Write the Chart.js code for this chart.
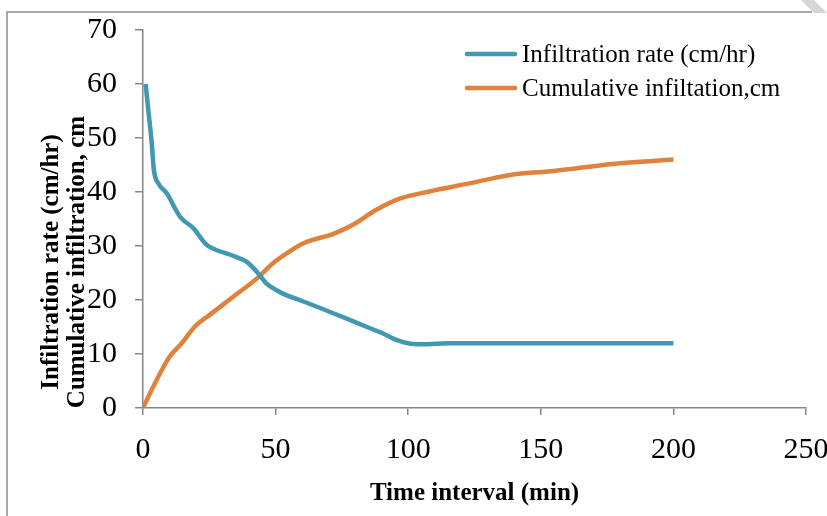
<!DOCTYPE html>
<html>
<head>
<meta charset="utf-8">
<script src="https://cdn.jsdelivr.net/npm/chart.js@4/dist/chart.umd.min.js"></script>
<style>
  html, body { margin: 0; padding: 0; background: #ffffff; }
  canvas { display: block; }
</style>
</head>
<body>
<canvas id="c" width="827" height="516"></canvas>
<script>
// ---- Data ----
const rateTime   = [1, 2, 3.3, 4.1, 5.8, 8.9, 14, 19, 24, 27, 35, 39, 43, 46.5, 50, 54, 59, 72, 84, 90.5, 95.5, 101, 106, 115, 200];
const rateValues = [60, 55.2, 49, 44.1, 41.6, 39.8, 35.4, 33.3, 30.2, 29.4, 28, 27.1, 25.2, 23.1, 21.9, 20.9, 20, 17.5, 15.1, 13.8, 12.6, 11.9, 11.8, 12, 12];

const cumTime   = [0, 2.6, 6.4, 10, 14.6, 19.6, 25, 34, 43, 49, 55, 60.5, 72, 79, 88, 97, 108, 123, 140, 155, 177, 200];
const cumValues = [0, 2.7, 6.4, 9.5, 12, 15.1, 17.2, 20.6, 24, 26.8, 28.9, 30.5, 32.3, 33.9, 36.7, 38.8, 40.1, 41.6, 43.3, 43.9, 45.2, 46];

const seriesNames = ['Infiltration rate (cm/hr)', 'Cumulative infiltation,cm'];
const yTitleLines = ['Infiltration rate (cm/hr)', 'Cumulative infiltration, cm'];
const xTitle = 'Time interval (min)';

const blue = '#4198B2';
const orange = '#E0823B';
const axisGrey = '#868686';

const toPoints = (xs, ys) => xs.map((x, i) => ({ x: x, y: ys[i] }));

const decorPlugin = {
  id: 'decor',
  beforeDraw(chart) {
    const ctx = chart.ctx;
    ctx.save();
    ctx.fillStyle = '#ffffff';
    ctx.fillRect(0, 0, chart.width, chart.height);
    // outer frame
    ctx.strokeStyle = '#8c8c8c';
    ctx.lineWidth = 1.5;
    ctx.beginPath();
    ctx.moveTo(7, 516);
    ctx.lineTo(7, 12);
    ctx.lineTo(812, 12);
    ctx.stroke();
    // hatched corner
    ctx.fillStyle = '#d6d6d6';
    ctx.beginPath();
    ctx.moveTo(801, 0);
    ctx.lineTo(814, 0);
    ctx.lineTo(827, 13);
    ctx.lineTo(814, 13);
    ctx.closePath();
    ctx.fill();
    ctx.restore();
  },
  afterDraw(chart) {
    const ctx = chart.ctx;
    ctx.save();
    // legend
    chart.data.datasets.forEach((ds, i) => {
      const y = 54 + i * 34;
      ctx.strokeStyle = ds.borderColor;
      ctx.lineWidth = 4.5;
      ctx.lineCap = 'round';
      ctx.beginPath();
      ctx.moveTo(467, y);
      ctx.lineTo(515, y);
      ctx.stroke();
      ctx.fillStyle = '#000000';
      ctx.font = '25px "Liberation Serif"';
      ctx.textBaseline = 'middle';
      ctx.textAlign = 'left';
      ctx.fillText(ds.label, 522, y + 1);
    });
    // y axis title (two lines, rotated)
    ctx.translate(52, 262);
    ctx.rotate(-Math.PI / 2);
    ctx.fillStyle = '#000000';
    ctx.font = 'bold 25px "Liberation Serif"';
    ctx.textAlign = 'center';
    ctx.textBaseline = 'middle';
    ctx.fillText(yTitleLines[0], 0, 0);
    ctx.fillText(yTitleLines[1], 0, 26);
    ctx.restore();
  }
};

new Chart(document.getElementById('c'), {
  type: 'line',
  data: {
    datasets: [
      {
        label: seriesNames[0],
        data: toPoints(rateTime, rateValues),
        borderColor: blue,
        backgroundColor: blue,
        borderWidth: 4.5,
        pointRadius: 0,
        cubicInterpolationMode: 'monotone',
        fill: false
      },
      {
        label: seriesNames[1],
        data: toPoints(cumTime, cumValues),
        borderColor: orange,
        backgroundColor: orange,
        borderWidth: 4.5,
        pointRadius: 0,
        cubicInterpolationMode: 'monotone',
        fill: false
      }
    ]
  },
  options: {
    responsive: false,
    animation: false,
    devicePixelRatio: 1,
    layout: { padding: { top: 30, right: 21, left: 0, bottom: 0 } },
    plugins: {
      legend: { display: false },
      tooltip: { enabled: false }
    },
    scales: {
      x: {
        type: 'linear',
        min: 0,
        max: 250,
        ticks: {
          stepSize: 50,
          color: '#000000',
          padding: 17,
          maxRotation: 0,
          font: { family: '"Liberation Serif"', size: 30 }
        },
        grid: { drawOnChartArea: false, drawTicks: true, tickLength: 7, color: axisGrey, lineWidth: 1.5 },
        border: { color: axisGrey, width: 1.5 },
        title: {
          display: true,
          text: xTitle,
          color: '#000000',
          font: { family: '"Liberation Serif"', size: 25, weight: 'bold' },
          padding: { top: 0, bottom: 7 }
        },
        afterFit(scale) {
          scale.height = 108;
          scale.paddingLeft = 0;
          scale.paddingRight = 0;
        }
      },
      y: {
        min: 0,
        max: 70,
        ticks: {
          stepSize: 10,
          color: '#000000',
          padding: 18,
          font: { family: '"Liberation Serif"', size: 30 }
        },
        grid: { drawOnChartArea: false, drawTicks: true, tickLength: 8, color: axisGrey, lineWidth: 1.5 },
        border: { color: axisGrey, width: 1.5 },
        afterFit(scale) {
          scale.width = 143;
          scale.paddingTop = 0;
          scale.paddingBottom = 0;
        }
      }
    }
  },
  plugins: [decorPlugin]
});
</script>
</body>
</html>
